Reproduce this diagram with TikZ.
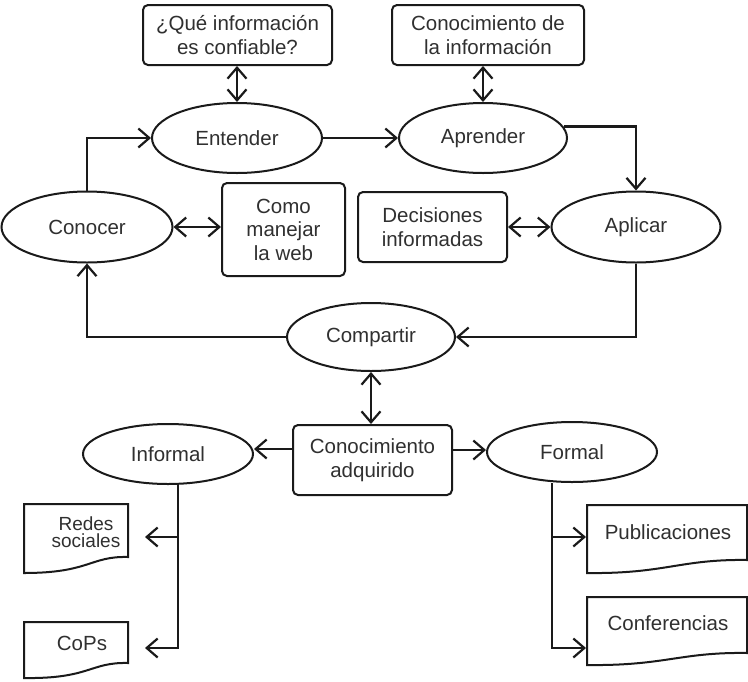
\documentclass[tikz,border=0pt]{standalone}
\usepackage{fontspec}
\setmainfont{Liberation Sans}
\usetikzlibrary{shapes.geometric,arrows.meta}
\definecolor{ink}{HTML}{1A1A1A}
\definecolor{txt}{HTML}{303030}
\tikzset{
  every node/.style={text=txt, font=\fontsize{20.5}{23.5}\selectfont, align=center, inner sep=0pt},
  oval/.style={ellipse, draw=ink, line width=2pt},
  rbox/.style={rectangle, rounded corners=5pt, draw=ink, line width=2pt},
  docline/.style={draw=ink, line width=2pt},
  conn/.style={draw=ink, line width=2.4pt},
  barb/.tip={Straight Barb[length=11pt,width=19pt,line width=2.2pt]},
  tip/.style={-barb},
  both/.style={barb-barb}
}
\begin{document}
\begin{tikzpicture}[x=1pt,y=-1pt]
\useasboundingbox (0,0) rectangle (748,681);
\fill[white] (0,0) rectangle (748,681);

% top boxes
\node[rbox, minimum width=189pt, minimum height=60pt] (q1) at (237.5,35) {¿Qué información\\es confiable?};
\node[rbox, minimum width=192pt, minimum height=60pt] (q2) at (488,35) {Conocimiento de\\la información};

% ellipses row 1
\node[oval, minimum width=170pt, minimum height=70pt] (entender) at (237,138) {Entender};
\node[oval, minimum width=168pt, minimum height=70pt] (aprender) at (483,138) {Aprender};

% row 2
\node[oval, minimum width=171pt, minimum height=71pt] (conocer) at (87,227) {Conocer};
\node[rbox, minimum width=123pt, minimum height=93pt] (como) at (283.5,229.5) {Como\\manejar\\la web};
\node[rbox, minimum width=149pt, minimum height=70pt] (decis) at (432.5,227) {Decisiones\\informadas};
\node[oval, minimum width=169pt, minimum height=71pt] (aplicar) at (636,227) {Aplicar};

% row 3
\node[oval, minimum width=168pt, minimum height=68pt] (compartir) at (371,337) {Compartir};
\node[rbox, minimum width=159pt, minimum height=70pt] (conoc) at (372.5,460) {Conocimiento\\adquirido};
\node[oval, minimum width=170pt, minimum height=60pt] (informal) at (168,454) {Informal};
\node[oval, minimum width=170pt, minimum height=60pt] (formal) at (572,452) {Formal};

% document shapes
\draw[docline] (24,504) -- (128,504) -- (128,557) .. controls (90,556) and (90,573) .. (24,573) -- cycle;
\draw[docline] (24,622) -- (128,622) -- (128,663) .. controls (90,662) and (90,679) .. (24,678) -- cycle;
\draw[docline] (587,505) -- (747,505) -- (747,560) .. controls (680,559) and (665,574) .. (587,573) -- cycle;
\draw[docline] (587,597) -- (747,597) -- (747,653) .. controls (680,652) and (665,666) .. (587,665) -- cycle;
\node[font=\fontsize{19}{17.5}\selectfont] (redes) at (86,532) {Redes\\sociales};
\node (cops) at (82,643) {CoPs};
\node (publ) at (668,532) {Publicaciones};
\node (conf) at (668,623) {Conferencias};

\coordinate (redesTip) at (145,537);
\coordinate (copsTip) at (145,648);
\coordinate (publTip) at (586,537);
\coordinate (confTip) at (586,648);
\coordinate (infBr) at (178,537);
\coordinate (forBr) at (552,537);

% connectors
\draw[conn,both] (entender.north) -- (entender.north |- q1.south);
\draw[conn,both] (aprender.north) -- (aprender.north |- q2.south);
\draw[conn,tip] (conocer.north) |- (entender.west);
\draw[conn,tip] (entender.east) -- (aprender.west);
\draw[conn,tip] (aprender.8) -| (aplicar.north);
\draw[conn,both] (conocer.east) -- (como.west |- conocer.east);
\draw[conn,both] (decis.east) -- (aplicar.west);
\draw[conn,tip] (aplicar.south) |- (compartir.east);
\draw[conn,tip] (compartir.west) -| (conocer.south);
\draw[conn,both] (compartir.south) -- (compartir.south |- conoc.north);
\draw[conn,tip] (conoc.west |- 0,449) -- (informal.east |- 0,449);
\draw[conn,tip] (conoc.east |- 0,450) -- (formal.west |- 0,450);
\draw[conn,tip] ([xshift=10pt]informal.south) |- (copsTip);
\draw[conn,tip] (infBr) -- (redesTip);
\draw[conn,tip] ([xshift=-20pt]formal.south) |- (confTip);
\draw[conn,tip] (forBr) -- (publTip);
\end{tikzpicture}
\end{document}
